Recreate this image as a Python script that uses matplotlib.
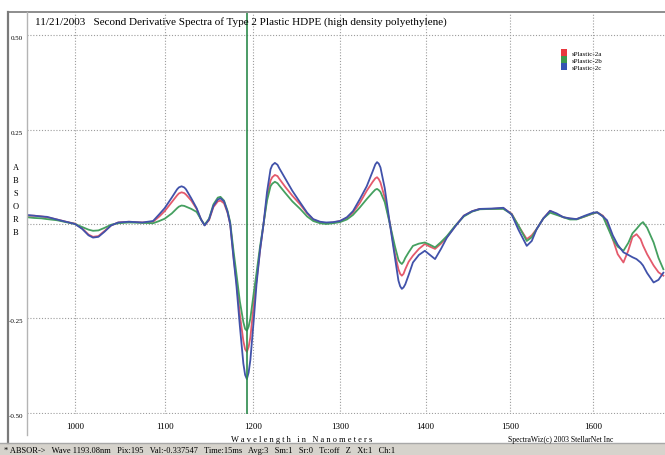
import numpy as np
import matplotlib.pyplot as plt
from matplotlib.patches import Patch

# wavelengths (nm) and second-derivative values
wave = [947, 955, 963, 969, 980, 990, 1000, 1008, 1015, 1020, 1026, 1033, 1040, 1048,
        1060, 1075, 1087, 1094, 1100, 1108, 1114, 1116, 1119, 1122, 1124, 1130, 1136,
        1141, 1145, 1150, 1155, 1160, 1163, 1167, 1171, 1174, 1178, 1181, 1185, 1189,
        1191, 1193, 1195, 1197, 1201, 1204, 1208, 1212, 1216, 1220, 1222, 1225, 1228,
        1230, 1237, 1245, 1254, 1262, 1269, 1277, 1284, 1292, 1300, 1308, 1315, 1323,
        1331, 1338, 1341, 1343, 1345, 1347, 1352, 1358, 1364, 1368, 1370, 1372, 1374,
        1376, 1380, 1385, 1392, 1399, 1405, 1411, 1418, 1425, 1435, 1445, 1455, 1464,
        1478, 1492, 1502, 1510, 1520, 1526, 1532, 1540, 1548, 1556, 1564, 1572, 1580,
        1590, 1600, 1605, 1612, 1617, 1624, 1630, 1637, 1643, 1648, 1653, 1658, 1661,
        1666, 1674, 1680, 1686]

plastic_2a = [0.022, 0.022, 0.020, 0.018, 0.012, 0.006, 0.001, -0.012, -0.028, -0.034,
              -0.032, -0.018, -0.004, 0.004, 0.006, 0.004, 0.006, 0.020, 0.034, 0.058,
              0.076, 0.081, 0.084, 0.082, 0.078, 0.062, 0.040, 0.012, -0.003, 0.010,
              0.045, 0.060, 0.062, 0.055, 0.030, 0.000, -0.090, -0.150, -0.240, -0.310,
              -0.332, -0.339, -0.326, -0.300, -0.210, -0.150, -0.070, 0.000, 0.070,
              0.115, 0.124, 0.130, 0.127, 0.120, 0.098, 0.075, 0.052, 0.028, 0.012,
              0.004, 0.002, 0.004, 0.008, 0.016, 0.030, 0.056, 0.088, 0.112, 0.121,
              0.124, 0.119, 0.110, 0.070, 0.002, -0.080, -0.120, -0.132, -0.137, -0.132,
              -0.120, -0.100, -0.084, -0.066, -0.053, -0.060, -0.066, -0.052, -0.035,
              -0.005, 0.022, 0.034, 0.040, 0.040, 0.042, 0.027, -0.005, -0.040, -0.030,
              -0.013, 0.015, 0.035, 0.026, 0.018, 0.014, 0.013, 0.020, 0.028, 0.031,
              0.022, 0.005, -0.040, -0.080, -0.102, -0.070, -0.035, -0.027, -0.040,
              -0.057, -0.080, -0.110, -0.128, -0.137]

plastic_2b = [0.018, 0.016, 0.015, 0.013, 0.010, 0.005, 0.000, -0.008, -0.015, -0.018,
              -0.017, -0.010, -0.002, 0.002, 0.004, 0.003, 0.002, 0.008, 0.014, 0.028,
              0.042, 0.046, 0.049, 0.048, 0.046, 0.040, 0.032, 0.012, -0.002, 0.014,
              0.052, 0.070, 0.072, 0.062, 0.035, 0.005, -0.075, -0.130, -0.205, -0.260,
              -0.278, -0.283, -0.272, -0.250, -0.180, -0.130, -0.060, 0.000, 0.062,
              0.100, 0.107, 0.112, 0.108, 0.102, 0.082, 0.060, 0.040, 0.020, 0.008,
              0.002, 0.000, 0.002, 0.005, 0.012, 0.024, 0.044, 0.066, 0.084, 0.091,
              0.093, 0.090, 0.085, 0.058, 0.000, -0.060, -0.095, -0.102, -0.106, -0.100,
              -0.090, -0.075, -0.058, -0.052, -0.049, -0.055, -0.062, -0.048, -0.032,
              -0.004, 0.020, 0.033, 0.039, 0.040, 0.040, 0.026, -0.004, -0.045, -0.035,
              -0.013, 0.015, 0.030, 0.024, 0.018, 0.012, 0.012, 0.020, 0.028, 0.031,
              0.020, -0.005, -0.040, -0.060, -0.071, -0.050, -0.025, -0.013, 0.000,
              0.005, -0.010, -0.049, -0.090, -0.120]

plastic_2c = [0.024, 0.022, 0.020, 0.019, 0.012, 0.006, 0.000, -0.013, -0.030, -0.036,
              -0.034, -0.020, -0.004, 0.004, 0.006, 0.004, 0.008, 0.026, 0.042, 0.070,
              0.092, 0.097, 0.100, 0.097, 0.092, 0.068, 0.042, 0.012, -0.004, 0.012,
              0.048, 0.065, 0.068, 0.060, 0.032, 0.000, -0.095, -0.160, -0.270, -0.370,
              -0.400, -0.411, -0.394, -0.360, -0.250, -0.160, -0.070, 0.000, 0.085,
              0.145, 0.156, 0.162, 0.157, 0.148, 0.120, 0.088, 0.057, 0.030, 0.013,
              0.006, 0.004, 0.005, 0.008, 0.018, 0.034, 0.066, 0.100, 0.140, 0.158,
              0.164, 0.160, 0.150, 0.095, 0.000, -0.090, -0.150, -0.165, -0.172, -0.168,
              -0.160, -0.135, -0.102, -0.082, -0.071, -0.082, -0.093, -0.066, -0.036,
              -0.006, 0.022, 0.034, 0.040, 0.041, 0.043, 0.025, -0.015, -0.058, -0.045,
              -0.013, 0.015, 0.035, 0.028, 0.018, 0.015, 0.013, 0.022, 0.030, 0.031,
              0.020, 0.010, -0.030, -0.055, -0.075, -0.082, -0.088, -0.093, -0.102,
              -0.110, -0.130, -0.155, -0.148, -0.129]

series_names = ['sPlastic-2a', 'sPlastic-2b', 'sPlastic-2c']
line_colors = ['#e45a6c', '#45a060', '#4152aa']
legend_colors = ['#e8383e', '#3c9a4c', '#3454b2']

x_ticks = [1000, 1100, 1200, 1300, 1400, 1500, 1600]
y_ticks = [0.50, 0.25, 0.0, -0.25, -0.50]
y_tick_labels = ['0.50', '0.25', '', '-0.25', '-0.50']
cursor_wave = 1193.08

title = '11/21/2003   Second Derivative Spectra of Type 2 Plastic HDPE (high density polyethylene)'
status = ('* ABSOR->   Wave 1193.08nm   Pix:195   Val:-0.337547   Time:15ms   Avg:3   '
          'Sm:1   Sr:0   Tc:off   Z   Xt:1   Ch:1')

plt.rcParams['font.family'] = ['Liberation Serif', 'DejaVu Serif']

W, H = 665, 456

# spectrometer pixel axis: wavelength is slightly non-linear in screen position
QA, QB = 90.33, 0.667


def fwd(w):
    u = (np.asarray(w, dtype=float) - 1000) / 100
    return QA * u - QB * u * u


def inv(p):
    p = np.asarray(p, dtype=float)
    return 1000 + 100 * (QA - np.sqrt(np.maximum(QA * QA - 4 * QB * p, 0))) / (2 * QB)


def fx(px):
    return px / W


def fy(py):
    return 1 - py / H


fig = plt.figure(figsize=(W / 100, H / 100), dpi=100)

top_px, bot_px = 14, 415
zero_px, scale_px = 225, 377.2
ax = fig.add_axes([fx(27), fy(bot_px), 1 - fx(27), (bot_px - top_px) / H])
ax.set_xscale('function', functions=(fwd, inv))
ax.set_xlim(947.1, 1688)
ax.set_ylim(-(bot_px - zero_px) / scale_px, (zero_px - top_px) / scale_px)

for vals, name, col in zip([plastic_2a, plastic_2b, plastic_2c], series_names, line_colors):
    ax.plot(wave, vals, color=col, lw=1.3, label=name, solid_joinstyle='round')

ax.axvline(cursor_wave, color='#2c8a4c', lw=1.2)

ax.set_xticks(x_ticks)
ax.set_xticklabels([str(t) for t in x_ticks], fontsize=6.5)
ax.set_yticks(y_ticks)
ax.tick_params(axis='x', length=0, pad=6)
ax.tick_params(axis='y', length=0, labelleft=False)
ax.xaxis.set_minor_locator(plt.NullLocator())
ax.grid(True, color='#9c9c9c', linestyle=(0, (1, 1.6)), lw=0.8)
for s in ax.spines.values():
    s.set_visible(False)

# y labels sit just below their grid lines, left of the plot frame
ylab_tr = ax.get_yaxis_transform()
for v, lab in zip(y_ticks, y_tick_labels):
    t = ax.text(0, v, lab, fontsize=5, ha='right', va='top',
                transform=ylab_tr, clip_on=False)
    t.set_x(-(27 - 23) / (W - 27))

for i, ch in enumerate('ABSORB'):
    fig.text(fx(16), fy(168 + 13 * i), ch, fontsize=6, ha='center', va='center')

handles = [Patch(facecolor=c, edgecolor='none') for c in legend_colors]
ax.legend(handles, series_names, loc='upper left', bbox_to_anchor=(fx(561), fy(50)),
          bbox_transform=fig.transFigure, frameon=False, fontsize=5,
          handlelength=0.8, handleheight=1.15, labelspacing=0.05, handletextpad=0.7,
          borderpad=0, borderaxespad=0)

fig.text(fx(35), fy(22), title, fontsize=8, ha='left', va='center')
fig.text(fx(231), fy(440), 'W a v e l e n g t h   i n   N a n o m e t e r s',
         fontsize=6, ha='left', va='center')
fig.text(fx(508), fy(440), 'SpectraWiz(c) 2003 StellarNet Inc', fontsize=5.5,
         ha='left', va='center')

# window frame and status bar
fig.add_artist(plt.Line2D([fx(8), fx(8)], [fy(13), fy(444)], color='#7a7a7a', lw=1.6))
fig.add_artist(plt.Line2D([fx(8), 1], [fy(13), fy(13)], color='#7a7a7a', lw=1.2))
fig.add_artist(plt.Line2D([fx(27), fx(27)], [fy(13), fy(436)], color='#b4b4b4', lw=1.0))
fig.add_artist(plt.Rectangle((0, 0), 1, fy(444), transform=fig.transFigure,
                             facecolor='#d6d3cc', edgecolor='none'))
fig.add_artist(plt.Line2D([0, 1], [fy(444), fy(444)], color='#a8a8a8', lw=1.0))
fig.text(fx(4), fy(451), status, fontsize=6, ha='left', va='center')

fig.savefig('out.png', dpi=100)
